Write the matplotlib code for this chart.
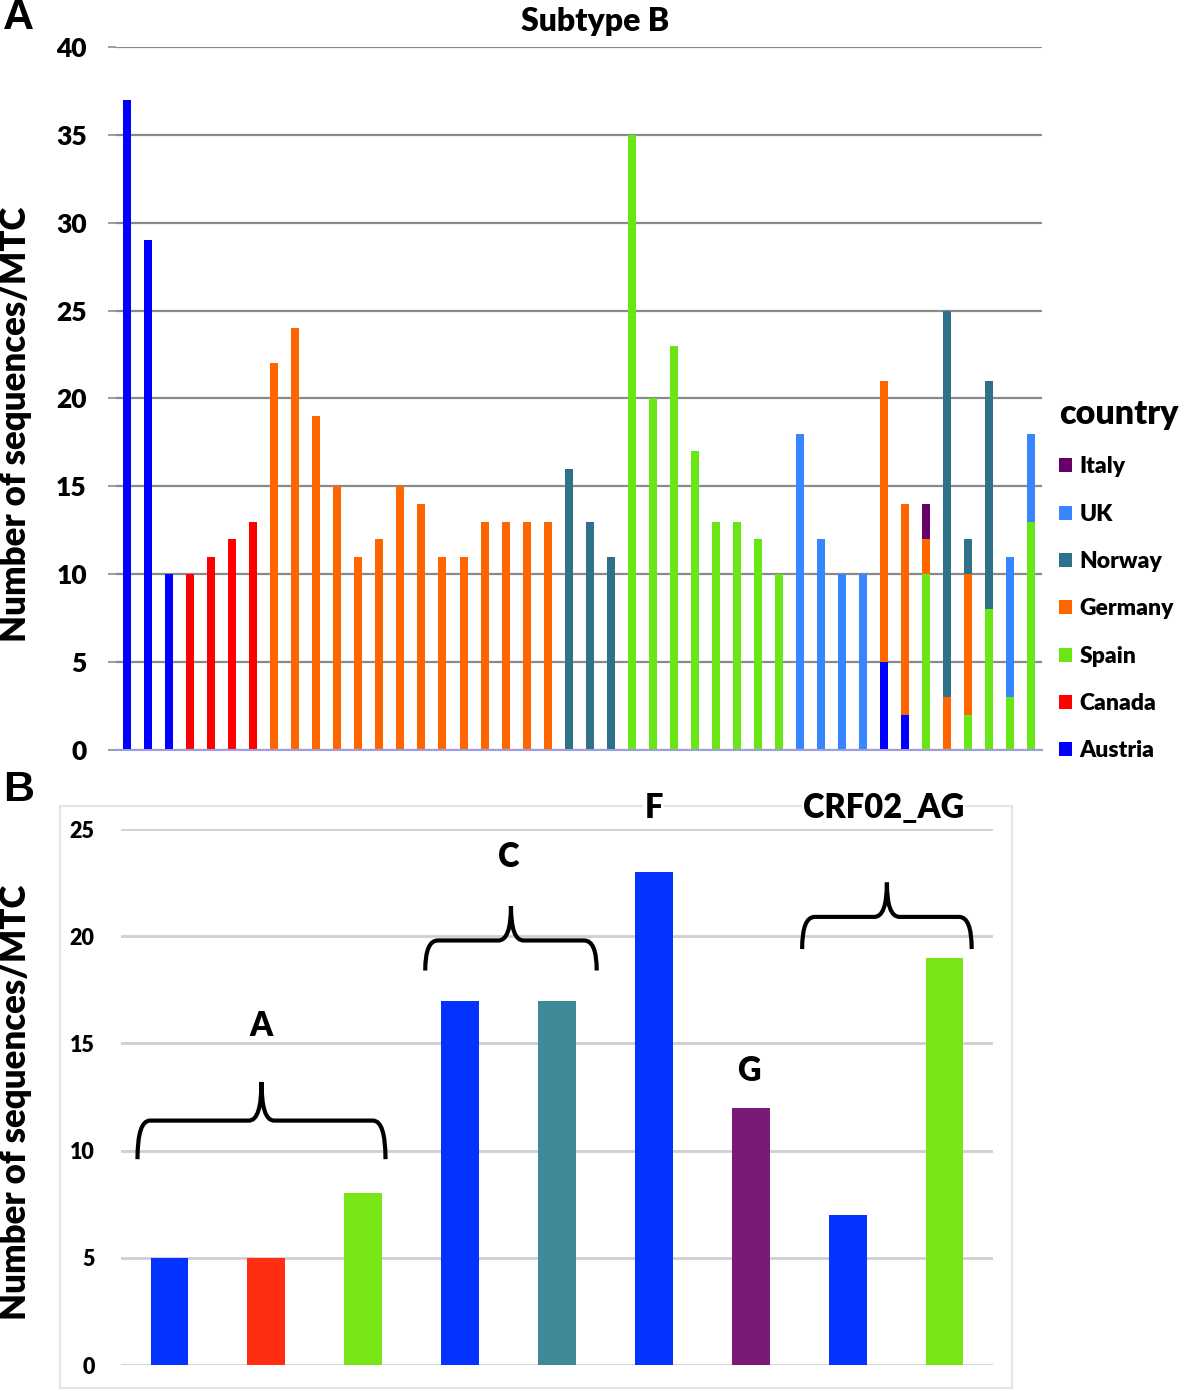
import matplotlib
matplotlib.use("Agg")
import matplotlib.pyplot as plt
import numpy as np

from matplotlib.patches import Patch, Rectangle
from matplotlib.path import Path
from matplotlib.patches import PathPatch

# ---- panel A data: one list per country, 44 MTC bars, stacked bottom->top
austria = [37, 29, 10, 0, 0, 0, 0,
           0, 0, 0, 0, 0, 0, 0, 0, 0, 0, 0, 0, 0, 0,
           0, 0, 0,
           0, 0, 0, 0, 0, 0, 0, 0,
           0, 0, 0, 0,
           5, 2, 0, 0, 0, 0, 0, 0]
canada = [0, 0, 0, 10, 11, 12, 13,
          0, 0, 0, 0, 0, 0, 0, 0, 0, 0, 0, 0, 0, 0,
          0, 0, 0,
          0, 0, 0, 0, 0, 0, 0, 0,
          0, 0, 0, 0,
          0, 0, 0, 0, 0, 0, 0, 0]
spain = [0, 0, 0, 0, 0, 0, 0,
         0, 0, 0, 0, 0, 0, 0, 0, 0, 0, 0, 0, 0, 0,
         0, 0, 0,
         35, 20, 23, 17, 13, 13, 12, 10,
         0, 0, 0, 0,
         0, 0, 10, 0, 2, 8, 3, 13]
germany = [0, 0, 0, 0, 0, 0, 0,
           22, 24, 19, 15, 11, 12, 15, 14, 11, 11, 13, 13, 13, 13,
           0, 0, 0,
           0, 0, 0, 0, 0, 0, 0, 0,
           0, 0, 0, 0,
           16, 12, 2, 3, 8, 0, 0, 0]
norway = [0, 0, 0, 0, 0, 0, 0,
          0, 0, 0, 0, 0, 0, 0, 0, 0, 0, 0, 0, 0, 0,
          16, 13, 11,
          0, 0, 0, 0, 0, 0, 0, 0,
          0, 0, 0, 0,
          0, 0, 0, 22, 2, 13, 0, 0]
uk = [0, 0, 0, 0, 0, 0, 0,
      0, 0, 0, 0, 0, 0, 0, 0, 0, 0, 0, 0, 0, 0,
      0, 0, 0,
      0, 0, 0, 0, 0, 0, 0, 0,
      18, 12, 10, 10,
      0, 0, 0, 0, 0, 0, 8, 5]
italy = [0, 0, 0, 0, 0, 0, 0,
         0, 0, 0, 0, 0, 0, 0, 0, 0, 0, 0, 0, 0, 0,
         0, 0, 0,
         0, 0, 0, 0, 0, 0, 0, 0,
         0, 0, 0, 0,
         0, 0, 2, 0, 0, 0, 0, 0]

stack_names = ["Austria", "Canada", "Spain", "Germany", "Norway", "UK", "Italy"]
stack_values = [austria, canada, spain, germany, norway, uk, italy]
legend_order = ["Italy", "UK", "Norway", "Germany", "Spain", "Canada", "Austria"]

colors = {
    "Austria": "#0000FF",
    "Canada": "#FF0000",
    "Spain": "#6AE516",
    "Germany": "#FF6600",
    "Norway": "#2E7188",
    "UK": "#3785FF",
    "Italy": "#660066",
}

# ---- panel B data: non-B subtypes
b_values = [5, 5, 8, 17, 17, 23, 12, 7, 19]
b_colors = ["#0433FF", "#FF2E12", "#77E614", "#0433FF", "#3E8A99",
            "#0433FF", "#7A1A76", "#0433FF", "#77E614"]
b_labels = ["A", "C", "F", "G", "CRF02_AG"]
b_label_pos = [(0.95, 15.8), (3.5, 23.7), (5.0, 26.0), (5.98, 13.7), (7.37, 26.0)]
# braces: (x start, x end, y of ends, y of bar, y of tip)
b_braces = [(-0.33, 2.23, 9.6, 11.4, 13.2),
            (2.64, 4.41, 18.4, 19.8, 21.4),
            (6.53, 8.28, 19.4, 20.9, 22.5)]

FONT = "Lato"
WEIGHT = "heavy"
W, H = 1181, 1389
fig = plt.figure(figsize=(W / 100, H / 100), dpi=100)


def fx(px):
    return px / W


def fy(py):
    return 1 - py / H


# ================= panel A =================
axA = fig.add_axes([fx(116), fy(750), fx(1042) - fx(116), fy(47) - fy(750)])
x = np.arange(len(austria))
bottom = np.zeros(len(austria))
for name, vals in zip(stack_names, stack_values):
    vals = np.array(vals, dtype=float)
    axA.bar(x, vals, bottom=bottom, width=0.38, color=colors[name], zorder=2)
    bottom += vals

axA.set_xlim(-0.52, 43.5)
axA.set_ylim(0, 40)
axA.set_yticks(range(0, 41, 5))
axA.set_xticks([])
axA.grid(axis="y", color="#8a8a8a", linewidth=1.6, zorder=0)
axA.set_axisbelow(True)
for s in ["left", "right", "top"]:
    axA.spines[s].set_visible(False)
axA.spines["bottom"].set_color("#9d9de0")
axA.spines["bottom"].set_linewidth(1.5)
axA.tick_params(axis="y", length=6, width=1.2, color="#8a8a8a", pad=15)
for lab in axA.get_yticklabels():
    lab.set_fontfamily(FONT)
    lab.set_fontweight(WEIGHT)
    lab.set_fontsize(19)

fig.text(fx(595), fy(21), "Subtype B", fontfamily=FONT, fontweight=WEIGHT,
         fontsize=23, ha="center", va="center")

fig.text(fx(3), fy(18), "A", fontfamily="Liberation Sans", fontweight="bold",
         fontsize=31, va="center", ha="left")
fig.text(fx(16), fy(424), "Number of sequences/MTC", rotation=90, fontfamily=FONT,
         fontweight=WEIGHT, fontsize=25, va="center", ha="center")

handles = [Patch(facecolor=colors[n], edgecolor="none", label=n) for n in legend_order]
leg = fig.legend(handles=handles, loc="upper left",
                 bbox_to_anchor=(fx(1059), fy(398)), frameon=False,
                 title="country", alignment="left",
                 handlelength=0.55, handleheight=0.55, handletextpad=0.35,
                 labelspacing=1.15, borderaxespad=0, borderpad=0,
                 prop={"family": FONT, "weight": WEIGHT, "size": 16.5},
                 title_fontproperties={"family": FONT, "weight": WEIGHT, "size": 24.5})

# ================= panel B =================
fig.patches.append(Rectangle((fx(60), fy(1388)), fx(1012) - fx(60), fy(806) - fy(1388),
                             transform=fig.transFigure, facecolor="none",
                             edgecolor="#e4e4e4", linewidth=1.5, zorder=-1))

axB = fig.add_axes([fx(121), fy(1365), fx(993) - fx(121), fy(829) - fy(1365)])
axB.patch.set_alpha(0)
xb = np.arange(len(b_values))
axB.bar(xb, b_values, width=0.39, color=b_colors, zorder=2)
axB.set_xlim(-0.5, 8.5)
axB.set_ylim(0, 25)
axB.set_yticks(range(0, 26, 5))
axB.set_xticks([])
axB.grid(axis="y", color="#cfcfcf", linewidth=2, zorder=0)
axB.set_axisbelow(True)
for s in axB.spines.values():
    s.set_visible(False)
axB.tick_params(axis="y", length=0, pad=19)
for lab in axB.get_yticklabels():
    lab.set_fontfamily(FONT)
    lab.set_fontweight(WEIGHT)
    lab.set_fontsize(15.5)

for text, (tx, ty) in zip(b_labels, b_label_pos):
    # labels sitting on the frame line get a white backing
    box = dict(facecolor="white", edgecolor="none", pad=1) if ty > 25 else None
    axB.text(tx, ty, text, fontfamily=FONT, fontweight=WEIGHT, fontsize=23.5,
             ha="center", va="center", clip_on=False, bbox=box)


def brace(ax, x0, x1, y_end, y_bar, y_tip, dx=0.13):
    xm = (x0 + x1) / 2
    verts = [(x0, y_end), (x0, y_bar), (x0 + dx, y_bar),
             (xm - dx, y_bar),
             (xm, y_bar), (xm, y_tip),
             (xm, y_bar), (xm + dx, y_bar),
             (x1 - dx, y_bar),
             (x1, y_bar), (x1, y_end)]
    codes = [Path.MOVETO, Path.CURVE3, Path.CURVE3,
             Path.LINETO,
             Path.CURVE3, Path.CURVE3,
             Path.CURVE3, Path.CURVE3,
             Path.LINETO,
             Path.CURVE3, Path.CURVE3]
    ax.add_patch(PathPatch(Path(verts, codes), facecolor="none", edgecolor="black",
                           linewidth=3, clip_on=False, zorder=3))


for b in b_braces:
    brace(axB, *b)

fig.text(fx(3), fy(790), "B", fontfamily="Liberation Sans", fontweight="bold",
         fontsize=31, va="center", ha="left")
fig.text(fx(16), fy(1102), "Number of sequences/MTC", rotation=90, fontfamily=FONT,
         fontweight=WEIGHT, fontsize=25, va="center", ha="center")

fig.savefig("out.png", dpi=100)
